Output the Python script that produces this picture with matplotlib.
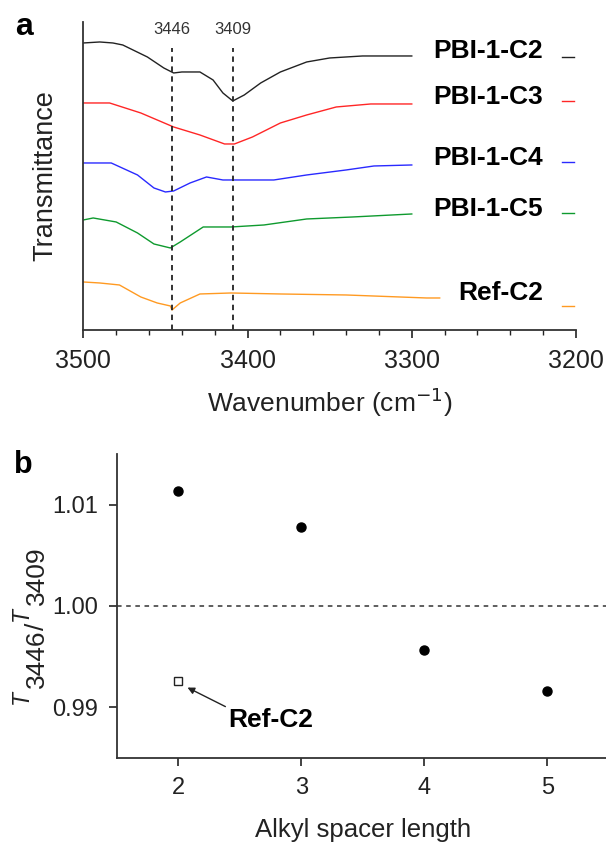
import matplotlib
matplotlib.use("Agg")
import matplotlib.pyplot as plt
from matplotlib.ticker import MultipleLocator

plt.rcParams["font.family"] = ["Liberation Sans", "DejaVu Sans"]

# ---- panel a: FTIR spectra (transmittance, arbitrary offset units) ----
wn_c2 = [3500, 3490, 3482, 3476, 3461, 3451, 3445, 3440, 3429, 3421, 3415,
         3409, 3402, 3392, 3380, 3364, 3350, 3330, 3300]
t_c2 = [2.87, 2.88, 2.87, 2.85, 2.73, 2.62, 2.57, 2.58, 2.58, 2.50, 2.37,
        2.29, 2.35, 2.47, 2.58, 2.68, 2.72, 2.74, 2.74]

wn_c3 = [3500, 3484, 3465, 3445, 3429, 3414, 3408, 3397, 3380, 3364, 3346,
         3325, 3300]
t_c3 = [2.27, 2.27, 2.17, 2.03, 1.95, 1.86, 1.86, 1.93, 2.07, 2.15, 2.23,
        2.26, 2.26]

wn_c4 = [3500, 3483, 3467, 3457, 3450, 3445, 3435, 3425, 3415, 3400, 3384,
         3364, 3340, 3323, 3300]
t_c4 = [1.67, 1.67, 1.55, 1.42, 1.38, 1.39, 1.47, 1.53, 1.50, 1.50, 1.50,
        1.55, 1.60, 1.64, 1.65]

wn_c5 = [3500, 3494, 3480, 3467, 3457, 3447, 3441, 3427, 3410, 3390, 3364,
         3336, 3300]
t_c5 = [1.10, 1.12, 1.08, 0.97, 0.86, 0.82, 0.88, 1.03, 1.03, 1.05, 1.11,
        1.13, 1.16]

wn_ref = [3500, 3490, 3478, 3465, 3455, 3447, 3446, 3441, 3429, 3410, 3380,
          3340, 3291, 3283]
t_ref = [0.48, 0.47, 0.45, 0.33, 0.27, 0.24, 0.20, 0.27, 0.36, 0.37, 0.36,
         0.35, 0.32, 0.32]

names = ["PBI-1-C2", "PBI-1-C3", "PBI-1-C4", "PBI-1-C5", "Ref-C2"]
colors = ["#222222", "#ff2626", "#2a2aff", "#0e9a2e", "#ff9a22"]
peaks = [3446, 3409]

# ---- panel b: intensity ratio vs spacer length ----
spacer = [2, 3, 4, 5]
ratio = [1.0113, 1.0078, 0.9957, 0.9916]
ref_spacer = 2
ref_ratio = 0.9926

fig = plt.figure(figsize=(6.06, 8.42), dpi=100)

ax1 = fig.add_axes([0.1375, 0.6081, 0.813, 0.3658])
spectra = [(wn_c2, t_c2), (wn_c3, t_c3), (wn_c4, t_c4), (wn_c5, t_c5),
           (wn_ref, t_ref)]
for (x, y), c in zip(spectra, colors):
    ax1.plot(x, y, color=c, lw=1.0)

for p in peaks:
    ax1.plot([p, p], [0, 2.82], color="#222222", lw=1.3, ls=(0, (3, 2.5)))
    ax1.text(p, 3.0, str(p), ha="center", va="center", fontsize=12,
             color="#333333")

# hand-placed legend: label text followed by a short line sample
lab_y = [2.79, 2.33, 1.72, 1.21, 0.37]
seg_y = [2.73, 2.29, 1.68, 1.17, 0.24]
for name, c, ly, sy in zip(names, colors, lab_y, seg_y):
    ax1.text(3220, ly, name, ha="right", va="center", fontsize=19,
             fontweight="bold", color="black")
    ax1.plot([3208.5, 3201.5], [sy, sy], color=c, lw=1.0, clip_on=False)

ax1.set_xlim(3500, 3200)
ax1.set_ylim(0, 3.08)
ax1.set_xticks([3500, 3400, 3300, 3200])
ax1.xaxis.set_minor_locator(MultipleLocator(20))
ax1.set_yticks([])
ax1.tick_params(axis="x", which="major", direction="out", length=6, width=1.2,
                labelsize=18, pad=7.5, colors="#222222")
ax1.tick_params(axis="x", which="minor", direction="out", length=3.5, width=1.0,
                colors="#222222")
ax1.set_xlabel("Wavenumber (cm$^{-1}$)", fontsize=19, labelpad=9,
               color="#222222")
ax1.set_ylabel("Transmittance", fontsize=19.5, color="#222222")
ax1.yaxis.set_label_coords(-0.05, 0.5)
for s in ["top", "right"]:
    ax1.spines[s].set_visible(False)
for s in ["left", "bottom"]:
    ax1.spines[s].set_linewidth(1.3)
    ax1.spines[s].set_color("#333333")

# ---- panel b ----
ax2 = fig.add_axes([0.1926, 0.0998, 0.8124, 0.361])
ax2.axhline(1.0, color="#333333", lw=1.1, ls=(0, (3, 3)))
ax2.plot(spacer, ratio, ls="none", marker="o", ms=6.5, color="black")
ax2.plot([ref_spacer], [ref_ratio], ls="none", marker="s", ms=5.5,
         mfc="white", mec="#222222", mew=1.0)
ax2.annotate("", xy=(2.075, 0.99195), xytext=(2.383, 0.99007),
             arrowprops=dict(arrowstyle="-|>", color="#222222", lw=1.0,
                             mutation_scale=10, shrinkA=0, shrinkB=0))
ax2.text(2.748, 0.98878, "Ref-C2", ha="center", va="center", fontsize=19,
         fontweight="bold")

ax2.set_xlim(1.5, 5.5)
ax2.set_ylim(0.985, 1.015)
ax2.set_xticks(spacer)
ax2.set_yticks([0.99, 1.00, 1.01])
ax2.set_yticklabels(["0.99", "1.00", "1.01"])
ax2.tick_params(direction="out", length=6, width=1.2, labelsize=17, pad=7.5,
                colors="#222222")
ax2.set_xlabel("Alkyl spacer length", fontsize=18.5, labelpad=14,
               color="#222222")
for s in ["top", "right"]:
    ax2.spines[s].set_visible(False)
for s in ["left", "bottom"]:
    ax2.spines[s].set_linewidth(1.3)
    ax2.spines[s].set_color("#333333")

# y label T3446/T3409 built from pieces: small italic T, large subscripts
W, H = 606, 842
fig.canvas.draw()
renderer = fig.canvas.get_renderer()
pieces = [("T", 16.5, "italic", 28, 2), ("3446", 19, "normal", 44, 0),
          ("/", 19, "normal", 44, 1), ("T", 16.5, "italic", 28, 2),
          ("3409", 19, "normal", 44, 0)]
ypos = H - 704
for s, size, style, bx, gap in pieces:
    t = fig.text(bx / W, ypos / H, s, rotation=90, rotation_mode="anchor",
                 ha="left", va="baseline", fontsize=size, fontstyle=style,
                 color="#222222")
    ypos += t.get_window_extent(renderer).height + gap

fig.text(15 / W, 1 - 35 / H, "a", fontsize=23, fontweight="bold",
         va="baseline")
fig.text(14 / W, 1 - 473 / H, "b", fontsize=22, fontweight="bold",
         va="baseline")

fig.savefig("out.png", dpi=100)
